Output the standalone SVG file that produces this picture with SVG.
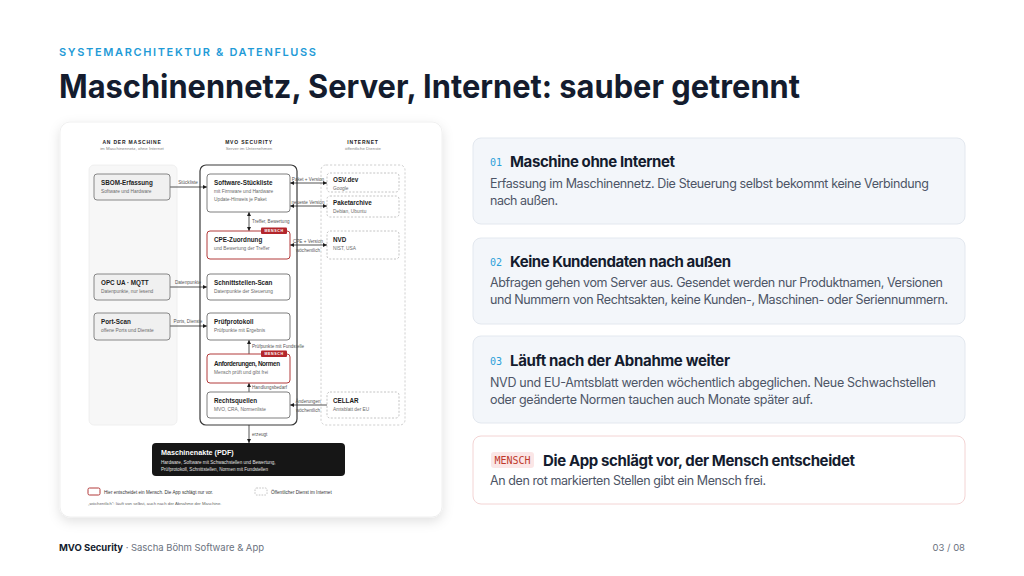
<svg xmlns="http://www.w3.org/2000/svg" width="1024" height="576" viewBox="0 0 1024 576">
<defs>
<style>
.sans{font-family:"Liberation Sans",Arial,sans-serif}
.ui{font-family:Inter,"Noto Sans",sans-serif}
.mono{font-family:"DejaVu Sans Mono","Liberation Mono",monospace}
.colh{font-family:"Liberation Sans",Arial,sans-serif;font-size:5px;font-weight:700;letter-spacing:0.8px;fill:#222;text-anchor:middle}
.cols{font-family:"Liberation Sans",Arial,sans-serif;font-size:4.4px;fill:#888;text-anchor:middle}
.nbox{fill:#fff;stroke:#6f6f6f;stroke-width:0.9}
.mbox{fill:#f0f0f0;stroke:#7a7a7a;stroke-width:0.9}
.rbox{fill:#fff;stroke:#b23a3a;stroke-width:1}
.ibox{fill:#fff;stroke:#b5b5b5;stroke-width:0.8;stroke-dasharray:2 1.6}
.nt{font-family:"Liberation Sans",Arial,sans-serif;font-size:6.3px;font-weight:700;fill:#1c1c1c}
.ns{font-family:"Liberation Sans",Arial,sans-serif;font-size:4.8px;fill:#6a6a6a}
.el{stroke:#2a2a2a;stroke-width:0.8;fill:none}
.lbl{font-family:"Liberation Sans",Arial,sans-serif;font-size:4.6px;fill:#555}
.badge{fill:#b3262c}
.bt{font-family:"Liberation Sans",Arial,sans-serif;font-size:3.6px;font-weight:700;fill:#fff;letter-spacing:0.6px;text-anchor:middle}
.card{fill:#f3f6fa;stroke:#e3e8ef;stroke-width:1}
.num{font-family:"DejaVu Sans Mono","Liberation Mono",monospace;font-size:10px;fill:#2b9fd9}
.ct{font-family:Inter,"Noto Sans",sans-serif;font-size:15px;font-weight:700;fill:#141c2e}
.cb{font-family:Inter,"Noto Sans",sans-serif;font-size:12.5px;fill:#4d5566}
</style>
<marker id="ah" viewBox="0 0 6 6" refX="6" refY="3" markerWidth="4" markerHeight="4" markerUnits="userSpaceOnUse" orient="auto-start-reverse">
<path d="M0,0 L6,3 L0,6 z" fill="#1c1c1c"/>
</marker>
<filter id="sh" x="-10%" y="-10%" width="120%" height="125%">
<feDropShadow dx="0" dy="4" stdDeviation="6" flood-color="#000" flood-opacity="0.12"/>
</filter>
</defs>
<rect width="1024" height="576" fill="#ffffff"/>

<!-- Header -->
<text x="59" y="56" class="ui" font-size="11" font-weight="600" fill="#1f9bd7" letter-spacing="2" textLength="259">SYSTEMARCHITEKTUR &amp; DATENFLUSS</text>
<text x="59" y="98" class="ui" font-size="32" font-weight="700" fill="#141c2e" textLength="741" lengthAdjust="spacingAndGlyphs">Maschinennetz, Server, Internet: sauber getrennt</text>

<!-- Diagram card -->
<rect x="60" y="122" width="382" height="395" rx="10" fill="#fff" stroke="#ececec" stroke-width="0.8" filter="url(#sh)"/>

<!-- Column headers -->
<text x="132" y="143.5" class="colh">AN DER MASCHINE</text>
<text x="132" y="150" class="cols">im Maschinennetz, ohne Internet</text>
<text x="249" y="143.5" class="colh">MVO SECURITY</text>
<text x="249" y="150" class="cols">Server im Unternehmen</text>
<text x="363" y="143.5" class="colh">INTERNET</text>
<text x="363" y="150" class="cols">öffentliche Dienste</text>

<!-- Lanes -->
<g id="lane-maschine"><rect x="89" y="165" width="88" height="260" rx="5" fill="#f7f7f7" stroke="#ececec" stroke-width="0.8"/></g>
<g id="lane-server"><rect x="200" y="165" width="97" height="260" rx="6" fill="#fff" stroke="#3a3a3a" stroke-width="1.2"/></g>
<g id="lane-internet"><rect x="321" y="165" width="84" height="260" rx="5" fill="#fff" stroke="#c4c4c4" stroke-width="0.8" stroke-dasharray="2.2 1.8"/></g>

<!-- Connectors -->
<g id="connectors">
<line class="el" x1="170" y1="187" x2="207" y2="187" marker-end="url(#ah)"/>
<text x="188" y="184" class="lbl" text-anchor="middle">Stückliste</text>
<line class="el" x1="170" y1="287" x2="207" y2="287" marker-end="url(#ah)"/>
<text x="188" y="284" class="lbl" text-anchor="middle">Datenpunkte</text>
<line class="el" x1="170" y1="326" x2="207" y2="326" marker-end="url(#ah)"/>
<text x="188" y="323" class="lbl" text-anchor="middle">Ports, Dienste</text>

<line class="el" x1="290" y1="183" x2="327" y2="183" marker-start="url(#ah)" marker-end="url(#ah)"/>
<text x="308" y="180.5" class="lbl" text-anchor="middle">Paket + Version</text>
<line class="el" x1="290" y1="206" x2="327" y2="206" marker-start="url(#ah)" marker-end="url(#ah)"/>
<text x="308" y="203.5" class="lbl" text-anchor="middle">neueste Version</text>
<line class="el" x1="290" y1="245" x2="327" y2="245" marker-start="url(#ah)" marker-end="url(#ah)"/>
<text x="308" y="242.5" class="lbl" text-anchor="middle">CPE + Version</text>
<text x="308" y="251.5" class="lbl" text-anchor="middle">wöchentlich</text>

<line class="el" x1="249" y1="212" x2="249" y2="231" marker-start="url(#ah)" marker-end="url(#ah)"/>
<text x="252" y="223" class="lbl">Treffer, Bewertung</text>
<line class="el" x1="249" y1="354" x2="249" y2="340" marker-end="url(#ah)"/>
<text x="252" y="348" class="lbl">Prüfpunkte mit Fundstelle</text>
<line class="el" x1="249" y1="392" x2="249" y2="383" marker-end="url(#ah)"/>
<text x="252" y="389" class="lbl">Handlungsbedarf</text>

<line class="el" x1="327" y1="405" x2="290" y2="405" marker-end="url(#ah)"/>
<text x="308" y="402.5" class="lbl" text-anchor="middle">Änderungen</text>
<text x="308" y="411.5" class="lbl" text-anchor="middle">wöchentlich</text>

<line class="el" x1="249" y1="425" x2="249" y2="443" marker-end="url(#ah)"/>
<text x="252" y="436" class="lbl">erzeugt</text>
</g>

<!-- Machine nodes -->
<g id="sbom"><rect class="mbox" x="94" y="174" width="76" height="26" rx="3"/>
<text x="101" y="185" class="nt">SBOM-Erfassung</text><text x="101" y="193" class="ns">Software und Hardware</text></g>
<g id="opc"><rect class="mbox" x="94" y="274" width="76" height="26" rx="3"/>
<text x="101" y="285" class="nt">OPC UA · MQTT</text><text x="101" y="293" class="ns">Datenpunkte, nur lesend</text></g>
<g id="portscan"><rect class="mbox" x="94" y="313" width="76" height="27" rx="3"/>
<text x="101" y="324" class="nt">Port-Scan</text><text x="101" y="332" class="ns">offene Ports und Dienste</text></g>

<!-- Server nodes -->
<g id="stueckliste"><rect class="nbox" x="207" y="174" width="83" height="38" rx="3"/>
<text x="214" y="185" class="nt">Software-Stückliste</text>
<text x="214" y="193" class="ns">mit Firmware und Hardware</text>
<text x="214" y="200.5" class="ns">Update-Hinweis je Paket</text></g>
<g id="cpe"><rect class="rbox" x="207" y="231" width="83" height="28" rx="3"/>
<rect class="badge" x="261" y="227.5" width="26" height="6.5" rx="1"/>
<text x="274" y="232.2" class="bt">MENSCH</text>
<text x="214" y="242" class="nt">CPE-Zuordnung</text>
<text x="214" y="250" class="ns">und Bewertung der Treffer</text></g>
<g id="schnittstellen"><rect class="nbox" x="207" y="274" width="83" height="26" rx="3"/>
<text x="214" y="285" class="nt">Schnittstellen-Scan</text>
<text x="214" y="293" class="ns">Datenpunkte der Steuerung</text></g>
<g id="pruefprotokoll"><rect class="nbox" x="207" y="313" width="83" height="27" rx="3"/>
<text x="214" y="324" class="nt">Prüfprotokoll</text>
<text x="214" y="332" class="ns">Prüfpunkte mit Ergebnis</text></g>
<g id="anforderungen"><rect class="rbox" x="207" y="354" width="83" height="29" rx="3"/>
<rect class="badge" x="261" y="350.5" width="26" height="6.5" rx="1"/>
<text x="274" y="355.2" class="bt">MENSCH</text>
<text x="214" y="365.5" class="nt" textLength="66">Anforderungen, Normen</text>
<text x="214" y="373.5" class="ns">Mensch prüft und gibt frei</text></g>
<g id="rechtsquellen"><rect class="nbox" x="207" y="392" width="83" height="26" rx="3"/>
<text x="214" y="403" class="nt">Rechtsquellen</text>
<text x="214" y="411" class="ns">MVO, CRA, Normenliste</text></g>

<!-- Internet nodes -->
<g id="osv"><rect class="ibox" x="327" y="173" width="72" height="19" rx="3"/>
<text x="333" y="182" class="nt">OSV.dev</text><text x="333" y="189.5" class="ns">Google</text></g>
<g id="paketarchive"><rect class="ibox" x="327" y="196" width="72" height="21" rx="3"/>
<text x="333" y="205" class="nt">Paketarchive</text><text x="333" y="212.5" class="ns">Debian, Ubuntu</text></g>
<g id="nvd"><rect class="ibox" x="327" y="231" width="72" height="28" rx="3"/>
<text x="333" y="242" class="nt">NVD</text><text x="333" y="250" class="ns">NIST, USA</text></g>
<g id="cellar"><rect class="ibox" x="327" y="392" width="72" height="26" rx="3"/>
<text x="333" y="403" class="nt">CELLAR</text><text x="333" y="411" class="ns">Amtsblatt der EU</text></g>

<!-- Output -->
<g id="maschinenakte"><rect x="152" y="443" width="193" height="33" rx="4" fill="#161616"/>
<text x="161" y="455" class="sans" font-size="7.2" font-weight="700" fill="#fff">Maschinenakte (PDF)</text>
<text x="161" y="463.5" class="sans" font-size="4.6" fill="#e0e0e0">Hardware, Software mit Schwachstellen und Bewertung,</text>
<text x="161" y="470.5" class="sans" font-size="4.6" fill="#e0e0e0">Prüfprotokoll, Schnittstellen, Normen mit Fundstellen</text></g>

<!-- Legend -->
<g id="legend">
<rect x="88" y="488" width="12" height="7" rx="1.5" fill="#fff" stroke="#b23a3a" stroke-width="1"/>
<text x="104" y="493.5" class="sans" font-size="4.6" fill="#333">Hier entscheidet ein Mensch. Die App schlägt nur vor.</text>
<rect x="255" y="488" width="12" height="7" rx="1.5" fill="#fff" stroke="#b5b5b5" stroke-width="0.8" stroke-dasharray="1.6 1.2"/>
<text x="271" y="493.5" class="sans" font-size="4.6" fill="#333">Öffentlicher Dienst im Internet</text>
<text x="88" y="505" class="sans" font-size="4.3" fill="#666">„wöchentlich“: läuft von selbst, auch nach der Abnahme der Maschine.</text>
</g>

<!-- Right cards -->
<g id="card1"><rect class="card" x="473" y="138" width="492" height="86" rx="8"/>
<text x="490" y="166" class="num">01</text>
<text x="510" y="167" class="ct" textLength="165">Maschine ohne Internet</text>
<text x="490" y="188" class="cb" textLength="439">Erfassung im Maschinennetz. Die Steuerung selbst bekommt keine Verbindung</text>
<text x="490" y="205" class="cb" textLength="68">nach außen.</text></g>
<g id="card2"><rect class="card" x="473" y="238" width="492" height="86" rx="8"/>
<text x="490" y="266" class="num">02</text>
<text x="510" y="267" class="ct" textLength="221">Keine Kundendaten nach außen</text>
<text x="490" y="287" class="cb" textLength="453">Abfragen gehen vom Server aus. Gesendet werden nur Produktnamen, Versionen</text>
<text x="490" y="304" class="cb" textLength="458">und Nummern von Rechtsakten, keine Kunden-, Maschinen- oder Seriennummern.</text></g>
<g id="card3"><rect class="card" x="473" y="336" width="492" height="87" rx="8"/>
<text x="490" y="365" class="num">03</text>
<text x="510" y="366" class="ct" textLength="220">Läuft nach der Abnahme weiter</text>
<text x="490" y="387" class="cb" textLength="446">NVD und EU-Amtsblatt werden wöchentlich abgeglichen. Neue Schwachstellen</text>
<text x="490" y="404" class="cb" textLength="323">oder geänderte Normen tauchen auch Monate später auf.</text></g>
<g id="card4"><rect x="473" y="436" width="492" height="68" rx="8" fill="#fff" stroke="#f3d4d4" stroke-width="1"/>
<rect x="491" y="452" width="43" height="16" rx="3" fill="#fbe6e6"/>
<text x="512.5" y="464" class="mono" font-size="10" fill="#c0392b" text-anchor="middle">MENSCH</text>
<text x="543" y="466" class="ct" textLength="312">Die App schlägt vor, der Mensch entscheidet</text>
<text x="490" y="485" class="cb" textLength="276">An den rot markierten Stellen gibt ein Mensch frei.</text></g>

<!-- Footer -->
<text x="59" y="551" class="ui" font-size="9.5" textLength="205"><tspan font-weight="700" fill="#141c2e">MVO Security</tspan><tspan fill="#6b7280"> · Sascha Böhm Software &amp; App</tspan></text>
<text x="965" y="551" class="ui" font-size="9.5" fill="#6b7280" text-anchor="end">03 / 08</text>
</svg>
